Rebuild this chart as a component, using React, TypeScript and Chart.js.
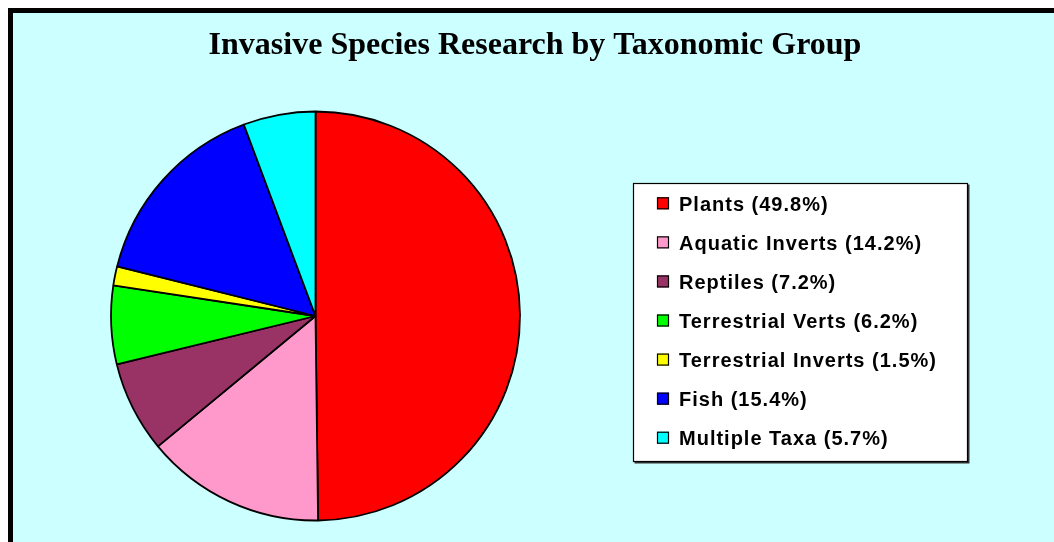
import React, { useEffect, useRef } from "react";
import { Chart, registerables } from "chart.js";

Chart.register(...registerables);

const TITLE = "Invasive Species Research by Taxonomic Group";
const categories = [
  "Plants",
  "Aquatic Inverts",
  "Reptiles",
  "Terrestrial Verts",
  "Terrestrial Inverts",
  "Fish",
  "Multiple Taxa",
];
const shares = [49.8, 14.2, 7.2, 6.2, 1.5, 15.4, 5.7];
const sliceColors = ["#FF0000", "#FF99CC", "#993366", "#00FF00", "#FFFF00", "#0000FF", "#00FFFF"];

const titleAndLegendPlugin = {
  id: "titleAndLegend",
  afterDraw(chart: any) {
    const ctx = chart.ctx as CanvasRenderingContext2D;
    const labels = chart.data.labels as string[];
    const ds = chart.data.datasets[0];
    ctx.save();
    // title
    ctx.fillStyle = "#000000";
    ctx.font = "bold 32px 'Liberation Serif', 'Times New Roman', serif";
    ctx.textAlign = "center";
    ctx.textBaseline = "alphabetic";
    ctx.fillText(TITLE, chart.width / 2, 41.3);

    // legend box
    const bx = 620, by = 170, bw = 335, bh = 279;
    ctx.fillStyle = "#333333";
    ctx.fillRect(bx + 1.5, by + 1.5, bw, bh);
    ctx.fillStyle = "#FFFFFF";
    ctx.fillRect(bx, by, bw, bh);
    ctx.lineWidth = 1.2;
    ctx.strokeStyle = "#000000";
    ctx.strokeRect(bx + 0.5, by + 0.5, bw - 1, bh - 1);
    const pitch = 39.07;
    ctx.font = "bold 20px 'Liberation Sans', Arial, sans-serif";
    (ctx as any).letterSpacing = "1px";
    ctx.textAlign = "left";
    labels.forEach((lab, i) => {
      const cy = 190.3 + i * pitch;
      ctx.fillStyle = ds.backgroundColor[i];
      ctx.fillRect(644, cy - 6, 12, 12);
      ctx.lineWidth = 1.2;
      ctx.strokeStyle = "#000000";
      ctx.strokeRect(644.5, cy - 5.5, 11, 11);
      ctx.fillStyle = "#000000";
      ctx.fillText(`${lab} (${ds.data[i].toFixed(1)}%)`, 666, cy + 7.2);
    });
    ctx.restore();
  },
};

export default function App() {
  const ref = useRef<HTMLCanvasElement | null>(null);
  useEffect(() => {
    document.documentElement.style.overflow = "hidden";
    document.body.style.overflow = "hidden";
    if (!ref.current) return;
    const chart = new Chart(ref.current, {
      type: "pie",
      data: {
        labels: categories,
        datasets: [
          {
            data: shares,
            backgroundColor: sliceColors,
            borderColor: "#000000",
            borderWidth: 1.8,
          },
        ],
      },
      options: {
        responsive: false,
        animation: false,
        devicePixelRatio: 1,
        radius: 204.5,
        layout: { padding: { left: 98, right: 537, top: 74, bottom: 0 } },
        plugins: {
          legend: { display: false },
          tooltip: { enabled: false },
          title: { display: false },
        },
      } as any,
      plugins: [titleAndLegendPlugin],
    });
    return () => chart.destroy();
  }, []);
  return (
    <div
      style={{
        position: "fixed",
        left: 8,
        top: 8,
        width: 1054,
        height: 542,
        boxSizing: "border-box",
        border: "5px solid #000000",
        background: "#CCFFFF",
      }}
    >
      <canvas ref={ref} width={1044} height={532} style={{ display: "block", width: 1044, height: 532 }} />
    </div>
  );
}
